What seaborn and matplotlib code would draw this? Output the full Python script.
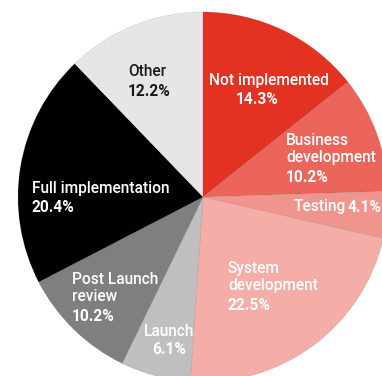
import matplotlib
matplotlib.use("Agg")
import matplotlib.pyplot as plt
import seaborn as sns

# slice data, clockwise from 12 o'clock
labels = ['Not implemented', 'Business\ndevelopment', 'Testing', 'System\ndevelopment',
          'Launch', 'Post Launch\nreview', 'Full implementation', 'Other']
shares = [14.3, 10.2, 4.1, 22.5, 6.1, 10.2, 20.4, 12.2]
colors = ['#E43222', '#EB655A', '#F0958E', '#F4ADA7',
          '#BFBFBF', '#7F7F7F', '#000000', '#E6E6E6']

W, H = 382, 376

sns.set_theme(style='white')
plt.rcParams['font.family'] = ['Roboto', 'DejaVu Sans']

fig = plt.figure(figsize=(W / 100, H / 100), dpi=100)
ax = fig.add_axes([0, 0, 1, 1])

ax.pie(shares, colors=colors, startangle=90, counterclock=False,
       radius=185, center=(203, H - 197),
       wedgeprops=dict(linewidth=0.4, edgecolor='#00000022'))
ax.set_xlim(0, W)
ax.set_ylim(0, H)
ax.set_aspect('equal')
ax.axis('off')

# label placement in pixel coords (x left, y of first line centre)
spots = [(209, 80, 'left'), (286, 140, 'left'), (294, 207, 'left'), (228, 268, 'left'),
         (169, 331, 'center'), (72, 279, 'left'), (32, 188, 'left'), (128, 72, 'left')]
lh = 18.5
fs = 11.2

for name, val, (x, y, ha), col in zip(labels, shares, spots, colors):
    tc = '#1A1A1A' if col == '#E6E6E6' else 'white'
    pct = f'{val:.1f}%'
    if name == 'Testing':
        ax.text(x, H - y, name, color=tc, fontsize=fs, fontweight='medium',
                ha='left', va='center')
        ax.text(x + 54, H - y, pct, color=tc, fontsize=fs, fontweight='bold',
                ha='left', va='center')
        continue
    n = name.count('\n') + 1
    ax.text(x, H - y - (n - 1) * lh / 2, name, color=tc, fontsize=fs,
            fontweight='medium', ha=ha, va='center', linespacing=1.2)
    px = x + 27 if name == 'Not implemented' else x
    ax.text(px, H - y - n * lh - 0.5, pct, color=tc, fontsize=fs,
            fontweight='bold', ha=ha, va='center')

fig.savefig('out.png', dpi=100)
